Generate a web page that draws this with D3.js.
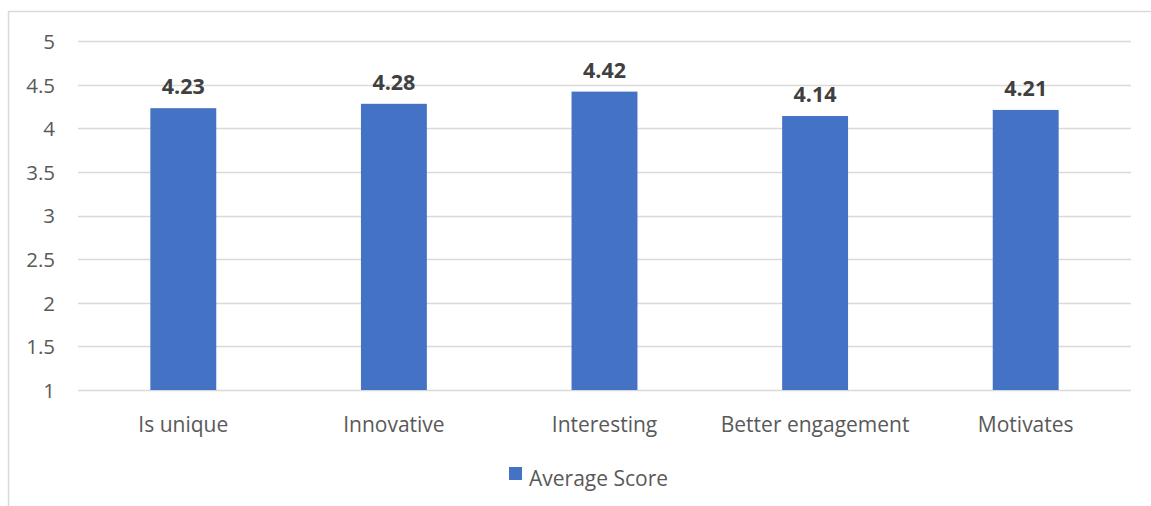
<!DOCTYPE html>
<html>
<head>
<meta charset="utf-8">
<script src="https://cdn.jsdelivr.net/npm/d3@7"></script>
<style>
  html, body { margin: 0; padding: 0; background: #fff; }
  svg { display: block; font-family: "Open Sans", "Noto Sans", sans-serif; }
</style>
</head>
<body>
<svg id="chart" width="1151" height="506"></svg>
<script>
// Survey items and their mean scores
const categories = ["Is unique", "Innovative", "Interesting", "Better engagement", "Motivates"];
const averageScore = [4.23, 4.28, 4.42, 4.14, 4.21];
const yTicks = [1, 1.5, 2, 2.5, 3, 3.5, 4, 4.5, 5];
const seriesName = "Average Score";

const svg = d3.select("#chart");
const W = 1151, H = 506;

// Outer chart frame (only top and left edges fall inside the view)
svg.append("path")
  .attr("d", `M8.5,${H} L8.5,11.5 L${W},11.5`)
  .attr("fill", "none")
  .attr("stroke", "#d9d9d9")
  .attr("stroke-width", 1.5);

const plot = { left: 78, right: 1131, top: 41, bottom: 390 };

const x = d3.scaleBand()
  .domain(categories)
  .range([plot.left, plot.right])
  .paddingInner(0.687)
  .paddingOuter(0.3435);

const y = d3.scaleLinear()
  .domain([1, 5])
  .range([plot.bottom, plot.top]);

// Horizontal gridlines
svg.append("g")
  .selectAll("line")
  .data(yTicks)
  .join("line")
  .attr("x1", plot.left)
  .attr("x2", plot.right)
  .attr("y1", d => Math.round(y(d)) + 0.5)
  .attr("y2", d => Math.round(y(d)) + 0.5)
  .attr("stroke", "#d9d9d9")
  .attr("stroke-width", 1.3);

// Y axis labels
const yAxis = d3.axisLeft(y).tickValues(yTicks).tickSize(0).tickPadding(0).tickFormat(d3.format("~g"));
const gy = svg.append("g")
  .attr("transform", `translate(55,0)`)
  .call(yAxis);
gy.select(".domain").remove();
gy.selectAll("text")
  .attr("font-family", "Open Sans")
  .attr("font-size", 20.5)
  .attr("fill", "#595959")
  .attr("dy", "0.36em");

// Bars
svg.append("g")
  .selectAll("rect")
  .data(categories)
  .join("rect")
  .attr("x", d => x(d))
  .attr("width", x.bandwidth())
  .attr("y", (d, i) => y(averageScore[i]))
  .attr("height", (d, i) => y(1) - y(averageScore[i]))
  .attr("fill", "#4472c4");

// Value labels above bars
svg.append("g")
  .selectAll("text")
  .data(categories)
  .join("text")
  .attr("x", d => x(d) + x.bandwidth() / 2)
  .attr("y", (d, i) => y(averageScore[i]) - 14)
  .attr("text-anchor", "middle")
  .attr("font-size", 21.5)
  .attr("font-weight", "bold")
  .attr("fill", "#404040")
  .text((d, i) => averageScore[i].toFixed(2));

// Category labels
const xAxis = d3.axisBottom(x).tickSize(0).tickPadding(0);
const gx = svg.append("g")
  .attr("transform", `translate(0,${plot.bottom})`)
  .call(xAxis);
gx.select(".domain").remove();
gx.selectAll("text")
  .attr("font-family", "Open Sans")
  .attr("font-size", 21)
  .attr("fill", "#595959")
  .attr("dy", 0)
  .attr("y", 42);

// Legend
const legend = svg.append("g").attr("transform", "translate(509,467)");
legend.append("rect")
  .attr("width", 13)
  .attr("height", 13)
  .attr("fill", "#4472c4");
legend.append("text")
  .attr("x", 20)
  .attr("y", 19)
  .attr("font-size", 21)
  .attr("fill", "#595959")
  .text(seriesName);
</script>
</body>
</html>
